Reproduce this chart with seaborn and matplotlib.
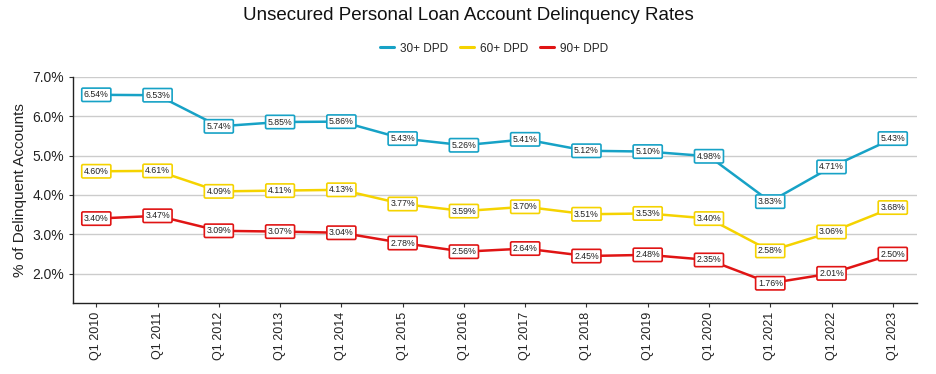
import matplotlib
matplotlib.use("Agg")
import matplotlib.pyplot as plt
import numpy as np
import pandas as pd
import seaborn as sns

QUARTERS = ["Q1 2010", "Q1 2011", "Q1 2012", "Q1 2013", "Q1 2014", "Q1 2015", "Q1 2016",
            "Q1 2017", "Q1 2018", "Q1 2019", "Q1 2020", "Q1 2021", "Q1 2022", "Q1 2023"]
DPD30 = [6.54, 6.53, 5.74, 5.85, 5.86, 5.43, 5.26, 5.41, 5.12, 5.10, 4.98, 3.83, 4.71, 5.43]
DPD60 = [4.60, 4.61, 4.09, 4.11, 4.13, 3.77, 3.59, 3.70, 3.51, 3.53, 3.40, 2.58, 3.06, 3.68]
DPD90 = [3.40, 3.47, 3.09, 3.07, 3.04, 2.78, 2.56, 2.64, 2.45, 2.48, 2.35, 1.76, 2.01, 2.50]
SERIES = ["30+ DPD", "60+ DPD", "90+ DPD"]
COLORS = {"30+ DPD": "#17a2c6", "60+ DPD": "#f5d300", "90+ DPD": "#e01414"}

df = pd.DataFrame({"quarter": QUARTERS * 3,
                   "x": list(range(len(QUARTERS))) * 3,
                   "rate": DPD30 + DPD60 + DPD90,
                   "series": [s for s in SERIES for _ in QUARTERS]})

sns.set_theme(style="white")
plt.rcParams["font.family"] = ["Liberation Sans", "DejaVu Sans"]

fig, ax = plt.subplots(figsize=(9.36, 3.74), dpi=100)
fig.subplots_adjust(left=0.078, right=0.98, top=0.795, bottom=0.19)

sns.lineplot(data=df, x="x", y="rate", hue="series", palette=COLORS, ax=ax,
             linewidth=1.8, legend=False)

for _, row in df.iterrows():
    ax.text(row["x"], row["rate"], f"{row['rate']:.2f}%", ha="center", va="center",
            fontsize=6.3, color="#222222",
            bbox=dict(boxstyle="round,pad=0.25,rounding_size=0.15", fc="white",
                      ec=COLORS[row["series"]], lw=1.2))

ax.set_xlim(-0.38, 13.4)
ax.set_ylim(1.26, 7.0)
ax.set_yticks([2, 3, 4, 5, 6, 7])
ax.set_yticklabels([f"{v:.1f}%" for v in [2, 3, 4, 5, 6, 7]], fontsize=10, color="#222222")
ax.set_xticks(range(len(QUARTERS)))
ax.set_xticklabels(QUARTERS, rotation=90, fontsize=9, color="#222222")
ax.tick_params(axis="both", length=3, width=0.8, color="#333333", bottom=True, left=True)
ax.yaxis.grid(True, color="#cccccc", linewidth=1.0)
ax.set_axisbelow(True)
for side in ["top", "right"]:
    ax.spines[side].set_visible(False)
for side in ["left", "bottom"]:
    ax.spines[side].set_color("#222222")
    ax.spines[side].set_linewidth(1.0)
ax.set_xlabel("")
ax.set_ylabel("% of Delinquent Accounts", fontsize=11, color="#222222")

handles = [plt.Line2D([], [], color=COLORS[s], lw=2.2) for s in SERIES]
fig.legend(handles, SERIES, loc="center", bbox_to_anchor=(0.528, 0.87), ncol=3,
           frameon=False, fontsize=8.5, handlelength=1.2, columnspacing=1.0,
           handletextpad=0.5)
fig.suptitle("Unsecured Personal Loan Account Delinquency Rates", y=0.98, fontsize=13.5,
             color="#111111")

fig.savefig("out.png", dpi=100)
